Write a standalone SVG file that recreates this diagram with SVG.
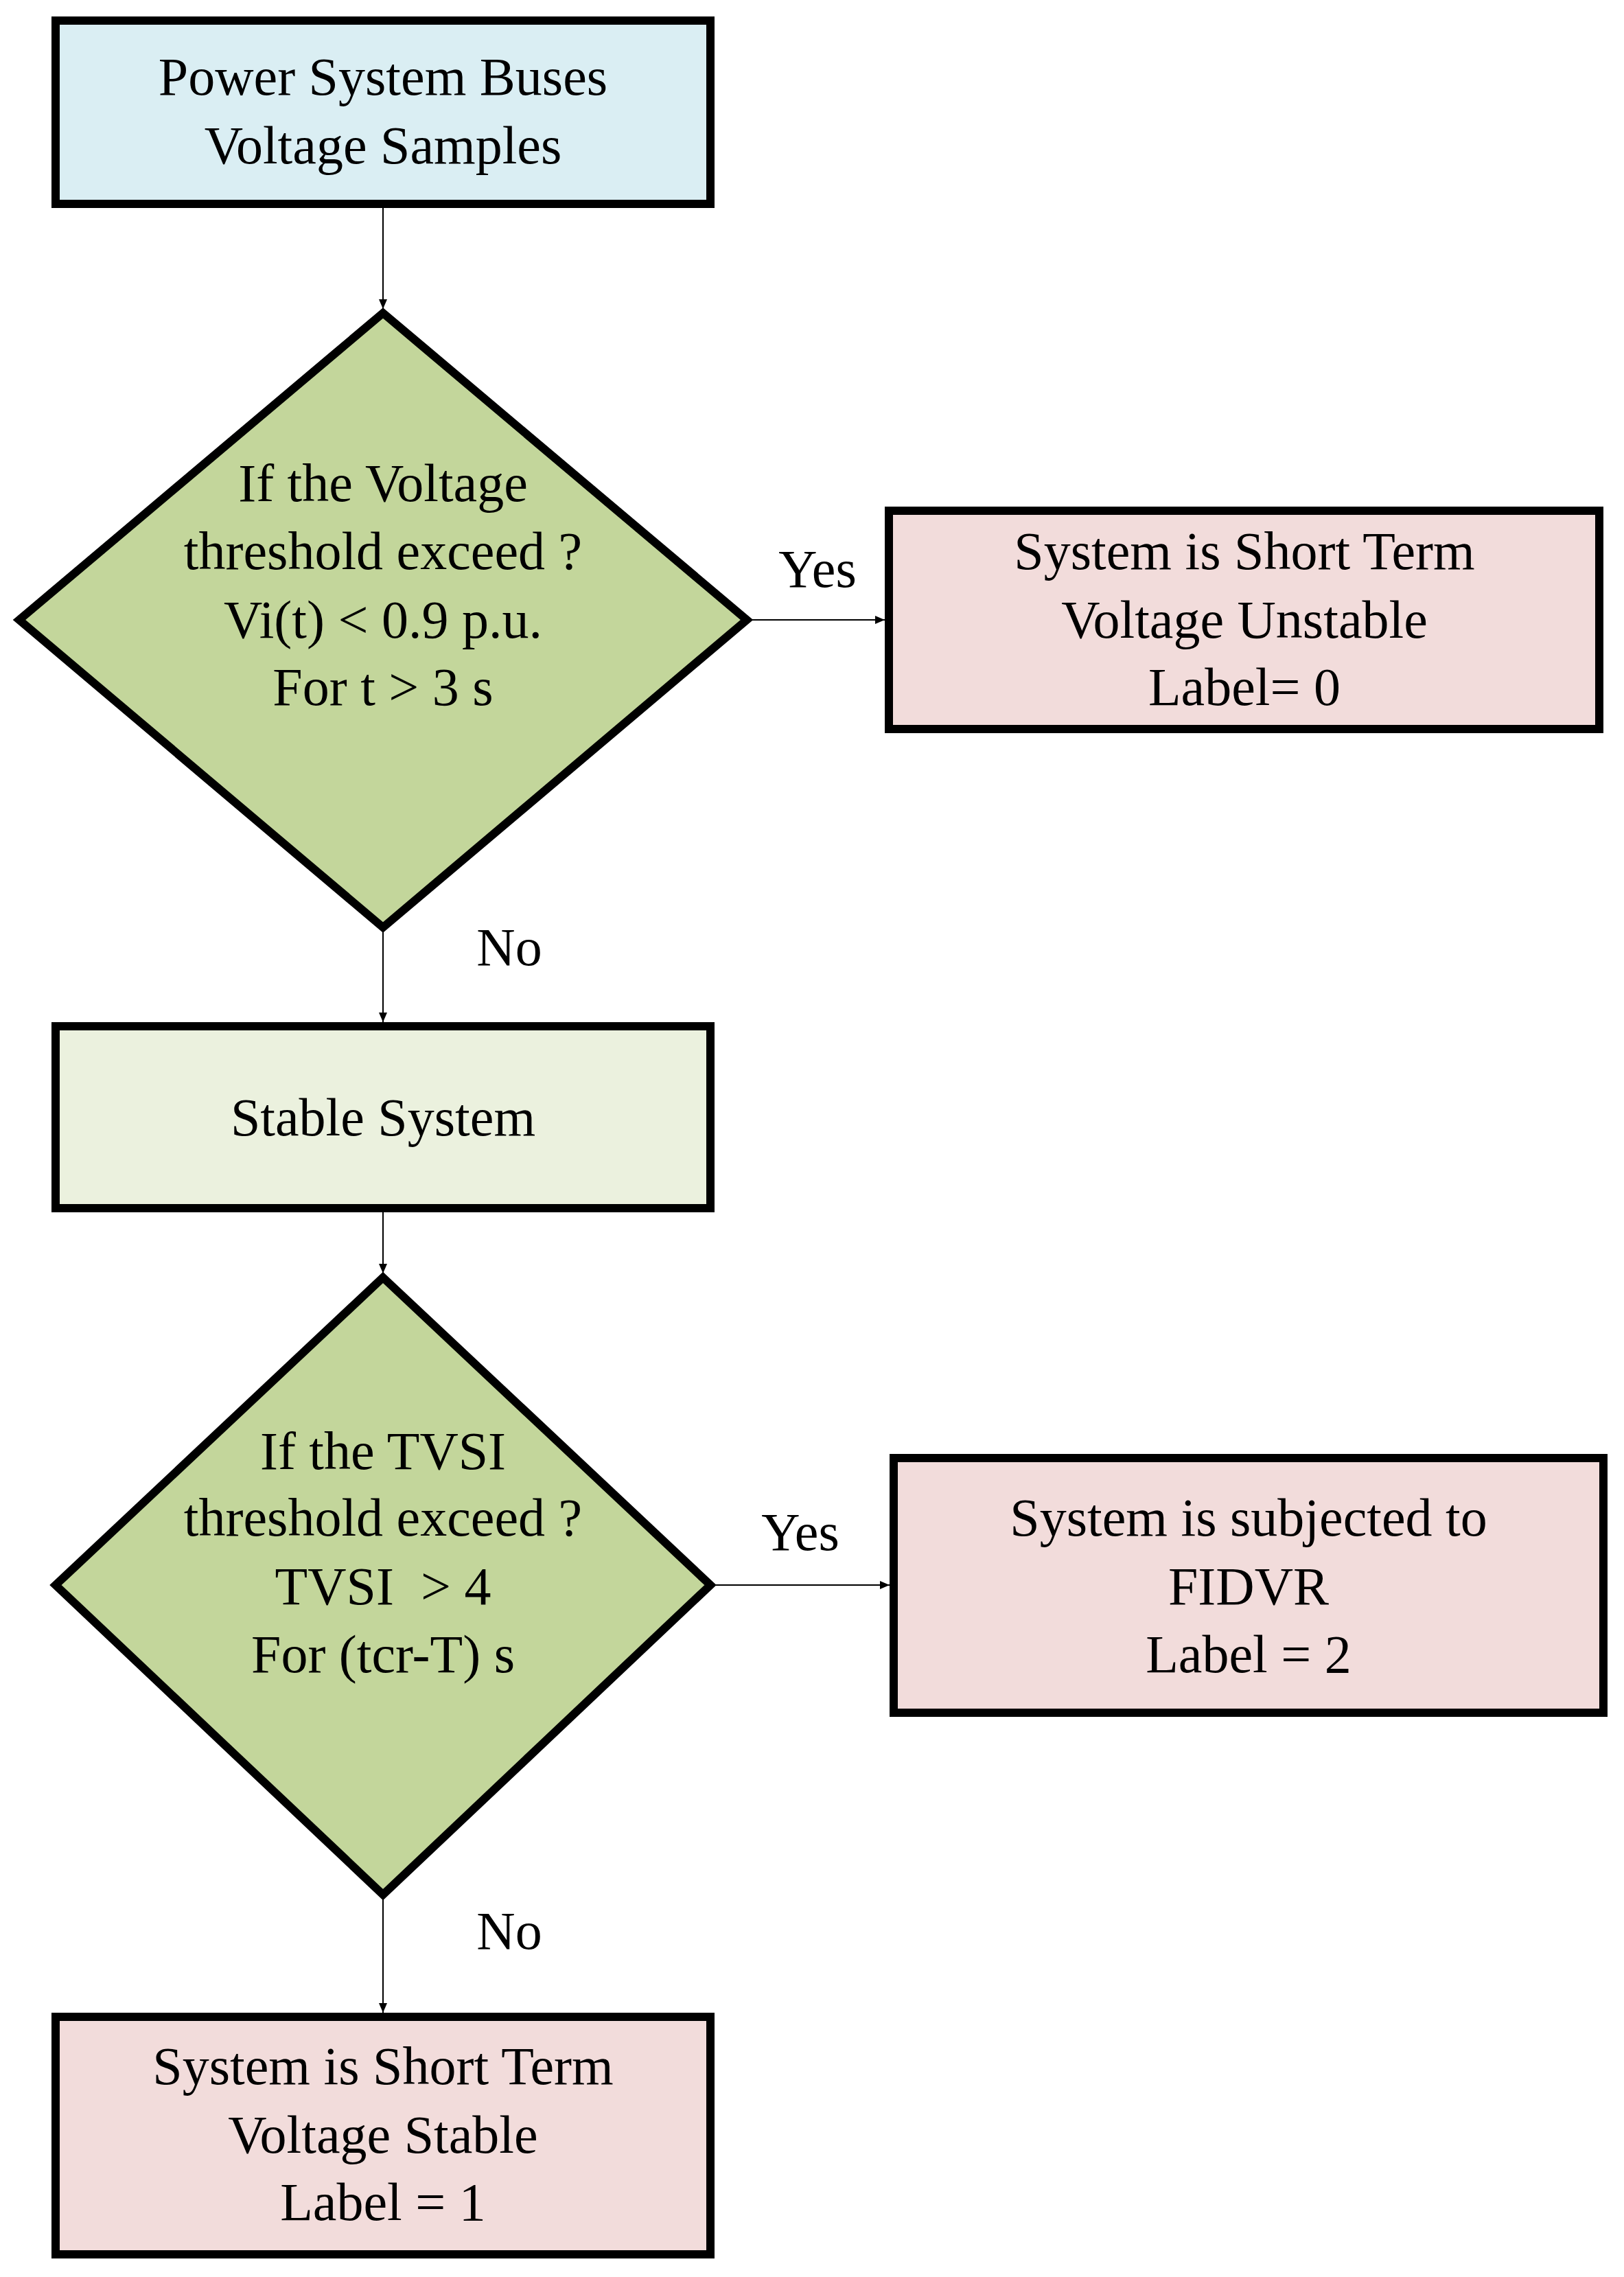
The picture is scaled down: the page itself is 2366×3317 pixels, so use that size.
<svg xmlns="http://www.w3.org/2000/svg" width="2366" height="3317" viewBox="0 0 2366 3317">
<style>
.n{stroke:#000;stroke-width:12;stroke-linejoin:miter}
.t{font-family:"Liberation Serif","DejaVu Serif",serif;font-size:78px;text-anchor:middle;fill:#000}
.c{stroke:#000;stroke-width:2;fill:none;marker-end:url(#a)}
</style>
<defs><marker id="a" markerWidth="14" markerHeight="12" refX="14" refY="6" orient="auto" markerUnits="userSpaceOnUse"><path d="M0,0 L14,6 L0,12 z" fill="#000"/></marker></defs>
<rect width="2366" height="3317" fill="#fff"/>
<g id="connectors">
<line class="c" x1="558" y1="297" x2="558" y2="450"/>
<line class="c" x1="1088" y1="903" x2="1289" y2="903"/>
<line class="c" x1="558" y1="1351" x2="558" y2="1489"/>
<line class="c" x1="558" y1="1760" x2="558" y2="1855"/>
<line class="c" x1="1035" y1="2309" x2="1296" y2="2309"/>
<line class="c" x1="558" y1="2760" x2="558" y2="2932"/>
<text class="t" x="1191" y="855">Yes</text>
<text class="t" x="742" y="1406">No</text>
<text class="t" x="1166" y="2258">Yes</text>
<text class="t" x="742" y="2839">No</text>
</g>
<g id="n1"><rect class="n" x="81" y="30" width="954" height="267" fill="#DAEEF3"/>
<text class="t" x="558" y="138">Power System Buses</text><text class="t" x="558" y="238">Voltage Samples</text></g>
<g id="n2"><polygon class="n" points="558,456 1088,903 558,1351 28,903" fill="#C3D69B"/>
<text class="t" x="558" y="730">If the Voltage</text><text class="t" x="558" y="829">threshold exceed ?</text><text class="t" x="558" y="929">Vi(t) &lt; 0.9 p.u.</text><text class="t" x="558" y="1027">For t &gt; 3 s</text></g>
<g id="n3"><rect class="n" x="1295" y="744" width="1035" height="318" fill="#F2DCDB"/>
<text class="t" x="1813" y="829">System is Short Term</text><text class="t" x="1813" y="929">Voltage Unstable</text><text class="t" x="1813" y="1027">Label= 0</text></g>
<g id="n4"><rect class="n" x="81" y="1495" width="954" height="265" fill="#EBF1DE"/>
<text class="t" x="558" y="1654">Stable System</text></g>
<g id="n5"><polygon class="n" points="558,1861 1035,2309 558,2760 81,2309" fill="#C3D69B"/>
<text class="t" x="558" y="2140">If the TVSI</text><text class="t" x="558" y="2237">threshold exceed ?</text><text class="t" x="558" y="2337" xml:space="preserve">TVSI  &gt; 4</text><text class="t" x="558" y="2436">For (tcr-T) s</text></g>
<g id="n6"><rect class="n" x="1302" y="2124" width="1034" height="371" fill="#F2DCDB"/>
<text class="t" x="1819" y="2237">System is subjected to</text><text class="t" x="1819" y="2337">FIDVR</text><text class="t" x="1819" y="2436">Label = 2</text></g>
<g id="n7"><rect class="n" x="81" y="2938" width="954" height="346" fill="#F2DCDB"/>
<text class="t" x="558" y="3036">System is Short Term</text><text class="t" x="558" y="3136">Voltage Stable</text><text class="t" x="558" y="3234">Label = 1</text></g>
</svg>
